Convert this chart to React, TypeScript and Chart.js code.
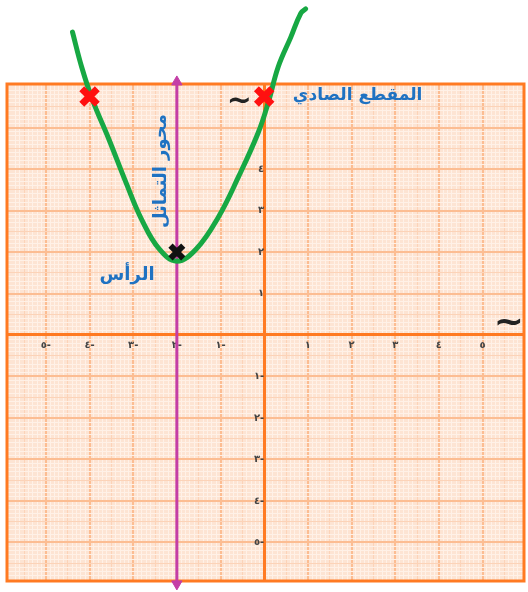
import { useEffect, useRef } from 'react';
import { Chart, registerables } from 'chart.js';

Chart.register(...registerables);

// ---- data ----
const xTickValues = [-5, -4, -3, -2, -1, 1, 2, 3, 4, 5];
const xTickLabels = ['٥-', '٤-', '٣-', '٢-', '١-', '١', '٢', '٣', '٤', '٥'];
const yTickValues = [-5, -4, -3, -2, -1, 1, 2, 3, 4];
const yTickLabels = ['٥-', '٤-', '٣-', '٢-', '١-', '١', '٢', '٣', '٤'];

// hand-drawn parabola, points
const curveX = [-4.39, -4.18, -3.93, -3.55, -3.16, -2.8, -2.41, -2.0, -1.55, -1.05, -0.59, -0.14, 0.09, 0.32, 0.61, 0.84, 0.95];
const curveY = [7.3, 6.46, 5.66, 4.7, 3.66, 2.77, 2.08, 1.78, 2.08, 2.84, 3.81, 4.87, 5.59, 6.46, 7.18, 7.76, 7.86];

const interceptX = [-4, 0];
const interceptY = [5.75, 5.75];

const vertexX = [-2];
const vertexY = [2];

const symmetryX = [-2, -2];
const symmetryY = [-6.0, 6.1];

const BLUE = '#1f72c2';
const AXIS = '#ff7a22';

const annotations = [
  { text: 'المقطع الصادي', x: 2.14, y: 5.78, rot: 0, color: BLUE, font: 'bold 17px "DejaVu Sans"' },
  { text: 'محور التماثل', x: -2.36, y: 3.95, rot: -Math.PI / 2, color: BLUE, font: 'bold 18px "DejaVu Sans"' },
  { text: 'الرأس', x: -3.14, y: 1.45, rot: 0, color: BLUE, font: 'bold 18px "DejaVu Sans"' },
  { text: '~', x: -0.57, y: 5.61, rot: 0, color: '#222', font: 'bold 30px "DejaVu Sans"' },
  { text: '~', x: 5.6, y: 0.27, rot: 0, color: '#222', font: 'bold 36px "DejaVu Sans"' },
];

const near = (a: number, b: number) => Math.abs(a - b) < 1e-6;

function gridColor(v: number) {
  if (near(v, 0)) return AXIS;
  if (near(v, Math.round(v))) return '#fcbd92';
  if (near(v * 2, Math.round(v * 2))) return '#fcd3b8';
  return '#fff1e7';
}
function gridWidth(v: number) {
  if (near(v, 0)) return 3;
  if (near(v, Math.round(v))) return 2;
  return 1;
}

const paperPlugin = {
  id: 'paper',
  beforeDraw(chart: any) {
    const { ctx, chartArea: a } = chart;
    ctx.save();
    ctx.fillStyle = '#ffffff';
    ctx.fillRect(0, 0, chart.width, chart.height);
    ctx.fillStyle = '#fde4d3';
    ctx.fillRect(a.left, a.top, a.right - a.left, a.bottom - a.top);
    ctx.restore();
  },
  beforeDatasetsDraw(chart: any) {
    const { ctx, chartArea: a } = chart;
    ctx.save();
    ctx.strokeStyle = AXIS;
    ctx.lineWidth = 3;
    ctx.strokeRect(a.left, a.top, a.right - a.left, a.bottom - a.top);
    ctx.restore();
  },
  afterDatasetsDraw(chart: any) {
    const { ctx, scales } = chart;
    ctx.save();
    ctx.textAlign = 'center';
    ctx.textBaseline = 'middle';
    for (const an of annotations) {
      const px = scales.x.getPixelForValue(an.x);
      const py = scales.y.getPixelForValue(an.y);
      ctx.save();
      ctx.translate(px, py);
      ctx.rotate(an.rot);
      ctx.font = an.font;
      ctx.fillStyle = an.color;
      ctx.fillText(an.text, 0, 0);
      ctx.restore();
    }
    ctx.restore();
  },
};

function labelFor(values: number[], labels: string[], v: number) {
  for (let i = 0; i < values.length; i++) if (near(values[i], v)) return labels[i];
  return '';
}

export default function App() {
  const ref = useRef<HTMLCanvasElement | null>(null);
  useEffect(() => {
    if (!ref.current) return;
    const chart = new Chart(ref.current, {
      type: 'scatter',
      data: {
        datasets: [
          {
            type: 'scatter',
            data: vertexX.map((x, i) => ({ x, y: vertexY[i] })),
            pointStyle: 'crossRot',
            pointRadius: 9,
            borderColor: '#111',
            backgroundColor: '#111',
            borderWidth: 6,
            order: 0,
            clip: false,
          } as any,
          {
            type: 'scatter',
            data: interceptX.map((x, i) => ({ x, y: interceptY[i] })),
            pointStyle: 'crossRot',
            pointRadius: 11,
            borderColor: '#ff1010',
            backgroundColor: '#ff1010',
            borderWidth: 7,
            order: 1,
            clip: false,
          } as any,
          {
            type: 'line',
            data: curveX.map((x, i) => ({ x, y: curveY[i] })),
            borderColor: '#17a843',
            borderWidth: 5,
            pointRadius: 0,
            tension: 0.4,
            fill: false,
            order: 2,
            clip: false,
            borderCapStyle: 'round',
          } as any,
          {
            type: 'line',
            data: symmetryX.map((x, i) => ({ x, y: symmetryY[i] })),
            borderColor: '#c43ea6',
            backgroundColor: '#c43ea6',
            borderWidth: 3,
            pointStyle: 'triangle',
            pointRadius: 6,
            rotation: [180, 0],
            pointBorderWidth: 1,
            fill: false,
            order: 3,
            clip: false,
          } as any,
        ],
      },
      options: {
        animation: false,
        responsive: false,
        events: [],
        layout: { autoPadding: false, padding: { left: 7, top: 84, right: -3, bottom: 11 } },
        plugins: { legend: { display: false }, tooltip: { enabled: false } },
        scales: {
          x: {
            type: 'linear',
            min: -5.89,
            max: 5.95,
            position: { y: 0 } as any,
            border: { display: true, color: AXIS, width: 3 },
            grid: {
              drawTicks: false,
              color: (c: any) => gridColor(c.tick.value),
              lineWidth: (c: any) => gridWidth(c.tick.value),
            },
            ticks: {
              stepSize: 0.1,
              autoSkip: false,
              maxRotation: 0,
              padding: 4,
              color: '#444',
              font: { family: 'DejaVu Sans', size: 10, weight: 'bold' },
              callback: (v: any) => labelFor(xTickValues, xTickLabels, Number(v)),
            },
          },
          y: {
            type: 'linear',
            min: -5.93,
            max: 6.05,
            position: { x: 0 } as any,
            border: { display: true, color: AXIS, width: 3 },
            grid: {
              drawTicks: false,
              color: (c: any) => gridColor(c.tick.value),
              lineWidth: (c: any) => gridWidth(c.tick.value),
            },
            ticks: {
              stepSize: 0.1,
              autoSkip: false,
              padding: 4,
              color: '#444',
              font: { family: 'DejaVu Sans', size: 10, weight: 'bold' },
              callback: (v: any) => labelFor(yTickValues, yTickLabels, Number(v)),
            },
          },
        },
      },
      plugins: [paperPlugin],
    });
    return () => chart.destroy();
  }, []);
  return (
    <div style={{ position: 'absolute', left: 0, top: 0, width: 528, height: 592, background: '#fff' }}>
      <canvas ref={ref} width={528} height={592} style={{ display: 'block' }} />
    </div>
  );
}
